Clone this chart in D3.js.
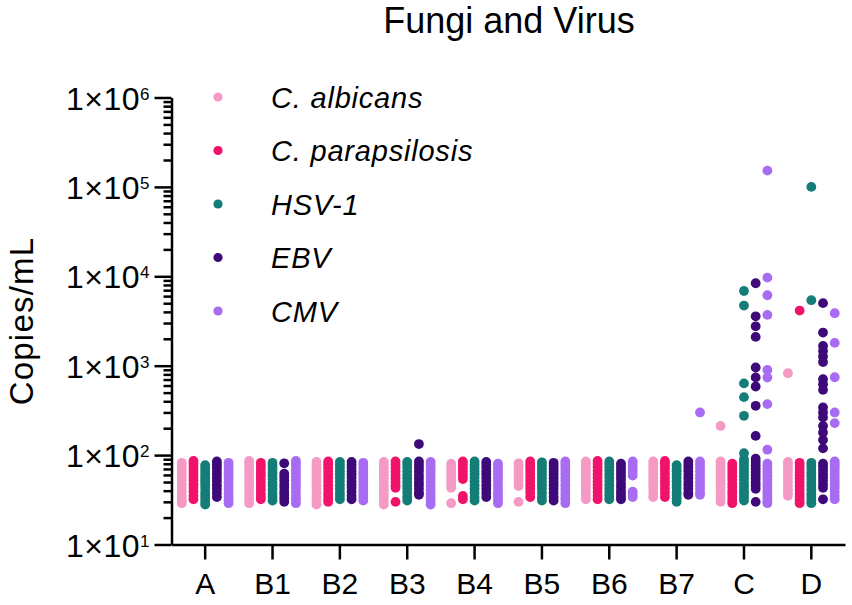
<!DOCTYPE html>
<html>
<head>
<meta charset="utf-8">
<script src="https://cdn.jsdelivr.net/npm/d3@7"></script>
<style>
  body { margin: 0; background: #fff; }
  svg { font-family: "Liberation Sans", Arial, sans-serif; }
</style>
</head>
<body>
<div id="viz"></div>
<script>
const groups = ["A", "B1", "B2", "B3", "B4", "B5", "B6", "B7", "C", "D"];
const seriesNames = ["C. albicans", "C. parapsilosis", "HSV-1", "EBV", "CMV"];
const seriesColors = ["#f59ac4", "#f1136b", "#157d77", "#3e0a79", "#a86cf2"];

// copies/mL, one list per group (A .. D)
const cAlbicans = [
  [82, 76, 70, 64, 59, 54, 49, 45, 41, 37, 34, 31, 29],
  [86, 80, 74, 68, 62, 57, 52, 47, 43, 39, 35, 32, 29],
  [84, 78, 72, 66, 60, 55, 50, 46, 42, 38, 34, 31, 28],
  [84, 77, 71, 65, 60, 55, 50, 45, 41, 37, 34, 31, 28],
  [80, 74, 68, 62, 57, 52, 47, 43, 29],
  [81, 75, 69, 63, 58, 53, 48, 45, 30],
  [85, 79, 73, 67, 61, 56, 51, 47, 43, 39, 35, 32],
  [85, 78, 72, 66, 61, 56, 51, 46, 42, 38, 34],
  [212, 85, 79, 73, 67, 61, 56, 51, 47, 43, 39, 35, 32, 30],
  [825, 84, 78, 72, 66, 60, 55, 50, 45, 41, 38, 35]
];
const cParapsilosis = [
  [86, 80, 74, 68, 62, 57, 52, 47, 43, 39, 35, 32],
  [82, 76, 70, 64, 59, 54, 49, 45, 41, 37, 34, 32],
  [85, 79, 73, 67, 61, 56, 51, 46, 42, 38, 35, 32, 30],
  [85, 78, 72, 66, 60, 55, 50, 46, 43, 30],
  [85, 78, 71, 65, 59, 54, 35, 32],
  [85, 79, 73, 67, 61, 56, 51, 46, 42, 38, 34],
  [86, 80, 73, 67, 61, 56, 51, 47, 43, 39, 35, 32],
  [86, 80, 74, 68, 62, 56, 51, 47, 42, 38, 34],
  [80, 74, 68, 63, 58, 53, 48, 44, 40, 37, 34, 31, 29],
  [4140, 82, 76, 70, 64, 59, 54, 49, 45, 41, 37, 34, 31, 29]
];
const hsv1 = [
  [77, 71, 65, 60, 55, 51, 47, 43, 39, 36, 33, 30, 28],
  [82, 76, 70, 64, 59, 54, 49, 45, 41, 37, 34, 31],
  [84, 78, 72, 66, 61, 56, 51, 46, 42, 38, 35, 32],
  [84, 78, 72, 66, 60, 55, 50, 46, 42, 38, 34, 31],
  [85, 78, 72, 66, 61, 56, 51, 46, 42, 38, 34, 31],
  [83, 77, 71, 65, 60, 55, 50, 46, 42, 38, 34, 31],
  [85, 79, 73, 67, 61, 56, 51, 46, 42, 38, 35, 32],
  [77, 71, 66, 61, 56, 51, 47, 43, 39, 36, 33, 30],
  [6850, 4710, 634, 445, 275, 105, 90, 82, 75, 69, 63, 58, 53, 48, 44, 40, 37, 34, 31],
  [100000, 5400, 82, 76, 70, 64, 59, 54, 49, 45, 41, 37, 34, 31, 29]
];
const ebv = [
  [85, 79, 73, 67, 61, 56, 51, 46, 42, 38, 34],
  [81, 62, 57, 52, 47, 43, 39, 36, 33, 30],
  [84, 78, 72, 66, 61, 56, 51, 47, 43, 39, 35, 32],
  [133, 85, 78, 72, 66, 60, 55, 50, 46, 42, 38, 36],
  [84, 78, 72, 66, 61, 56, 51, 46, 42, 38, 34],
  [82, 76, 70, 65, 60, 55, 50, 46, 42, 38, 34, 31],
  [80, 74, 68, 63, 58, 53, 48, 44, 40, 37, 34, 32],
  [85, 78, 72, 66, 60, 55, 50, 46, 42, 38, 36],
  [8360, 3570, 2760, 2100, 955, 740, 585, 356, 164, 91, 84, 77, 71, 65, 60, 55, 50, 46, 42, 30],
  [5010, 2350, 1665, 1460, 1267, 1100, 706, 621, 537, 341, 300, 264, 212, 179, 148, 119, 80, 74, 68, 62, 57, 52, 47, 43, 32]
];
const cmv = [
  [82, 76, 70, 64, 59, 54, 49, 45, 41, 37, 34, 31, 29],
  [86, 80, 74, 68, 62, 57, 52, 47, 43, 39, 35, 32, 29],
  [82, 76, 70, 64, 59, 54, 49, 45, 41, 37, 34, 31],
  [84, 78, 72, 66, 60, 55, 50, 45, 41, 37, 34, 31, 28],
  [80, 74, 68, 63, 58, 53, 48, 44, 40, 37, 34, 31, 29],
  [85, 79, 73, 67, 61, 56, 51, 46, 42, 38, 35, 32, 29],
  [85, 78, 71, 65, 59, 39, 36, 34],
  [300, 85, 78, 72, 66, 60, 55, 50, 46, 42, 38, 36],
  [152000, 9660, 6140, 3700, 898, 738, 372, 115, 80, 74, 68, 63, 58, 53, 48, 44, 40, 37, 34, 31, 29],
  [3865, 1800, 743, 300, 228, 85, 79, 73, 67, 61, 56, 51, 47, 43, 39, 35, 32]
];
const seriesData = [cAlbicans, cParapsilosis, hsv1, ebv, cmv];
const yPowers = [1, 2, 3, 4, 5, 6];

const width = 852, height = 605;
const axisX = 171.5, axisY = 544.5;

const svg = d3.select("#viz")
  .append("svg")
  .attr("width", width)
  .attr("height", height);

const x = d3.scaleBand().domain(groups).range([axisX, 845]);
const xInner = d3.scalePoint().domain(seriesNames).range([-23.4, 23.4]);
const y = d3.scaleLog().domain([10, 1e6]).range([axisY, 97.5]);

// flatten points
const points = [];
seriesNames.forEach((s, si) => {
  groups.forEach((g, gi) => {
    seriesData[si][gi].forEach(v => points.push({ group: g, series: s, si: si, value: v }));
  });
});

// minor ticks 2..9 per decade
const minorTicks = [];
yPowers.slice(0, -1).forEach(p => {
  for (let m = 2; m <= 9; m++) minorTicks.push(m * Math.pow(10, p));
});
const majorTicks = yPowers.map(p => Math.pow(10, p));

// y axis
svg.append("g")
  .attr("transform", `translate(${axisX},0)`)
  .call(d3.axisLeft(y).tickValues(majorTicks).tickSize(17).tickSizeOuter(0).tickFormat(""));
svg.append("g")
  .attr("transform", `translate(${axisX},0)`)
  .call(d3.axisLeft(y).tickValues(minorTicks).tickSize(8).tickFormat(""))
  .call(g => g.select(".domain").remove());

// x axis
const xAxisG = svg.append("g")
  .attr("transform", `translate(0,${axisY})`)
  .call(d3.axisBottom(x).tickSize(15).tickSizeOuter(0).tickPadding(13));
xAxisG.selectAll("text")
  .attr("font-size", 30)
  .attr("fill", "#000")
  .attr("font-family", "'Liberation Sans', Arial, sans-serif");

svg.selectAll(".domain, .tick line")
  .attr("stroke", "#000")
  .attr("stroke-width", 2.5);

// y tick labels 1×10^n
const yLabels = svg.append("g")
  .selectAll("text")
  .data(yPowers)
  .enter().append("text")
  .attr("x", 150)
  .attr("y", d => y(Math.pow(10, d)) + 12)
  .attr("text-anchor", "end")
  .attr("font-size", 32)
  .attr("letter-spacing", 0.5)
  .attr("fill", "#000");
yLabels.append("tspan").text("1×10");
yLabels.append("tspan")
  .attr("dy", -10)
  .attr("font-size", 17)
  .text(d => d);

// y axis title
svg.append("text")
  .attr("transform", "translate(33,321) rotate(-90)")
  .attr("text-anchor", "middle")
  .attr("font-size", 33)
  .attr("letter-spacing", 1.2)
  .attr("fill", "#000")
  .text("Copies/mL");

// chart title
svg.append("text")
  .attr("x", 509)
  .attr("y", 33)
  .attr("text-anchor", "middle")
  .attr("font-size", 36)
  .attr("fill", "#000")
  .text("Fungi and Virus");

// dots
svg.append("g")
  .selectAll("circle")
  .data(points)
  .enter().append("circle")
  .attr("cx", d => x(d.group) + x.bandwidth() / 2 + xInner(d.series))
  .attr("cy", d => y(d.value))
  .attr("r", 4.9)
  .attr("fill", d => seriesColors[d.si]);

// legend
const legend = svg.append("g")
  .selectAll("g")
  .data(seriesNames)
  .enter().append("g")
  .attr("transform", (d, i) => `translate(218,${97 + i * 53.5})`);
legend.append("circle")
  .attr("r", 4.6)
  .attr("fill", (d, i) => seriesColors[i]);
legend.append("text")
  .attr("x", 53)
  .attr("y", 10.5)
  .attr("font-size", 29)
  .attr("font-style", "italic")
  .attr("letter-spacing", 0.8)
  .attr("fill", "#000")
  .text(d => d);
</script>
</body>
</html>
